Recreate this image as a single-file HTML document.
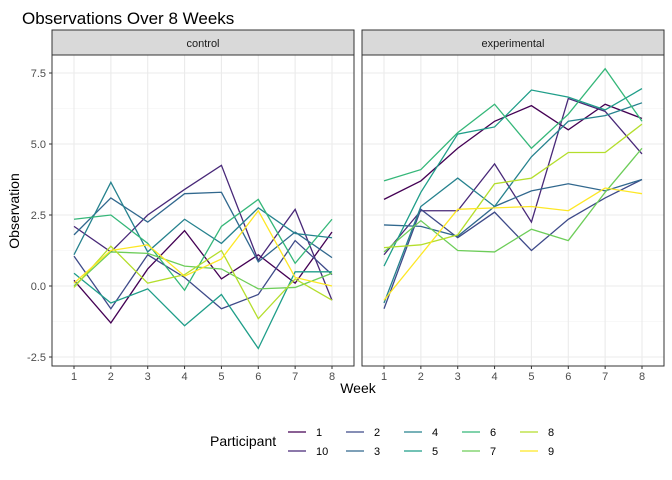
<!DOCTYPE html>
<html><head><meta charset="utf-8"><style>
body{margin:0;background:#fff}
svg{font-family:"Liberation Sans",sans-serif;display:block}
</style></head><body>
<svg id="c" width="672" height="480">
<text x="22" y="24" font-size="17" fill="#000">Observations Over 8 Weeks</text>
</svg>
<script>
const weeks=[1,2,3,4,5,6,7,8];
const participants=["1","10","2","3","4","5","6","7","8","9"];
const colors=["#440154","#482878","#3E4A89","#31688E","#26828E","#1F9E89","#35B779","#6DCD59","#B4DE2C","#FDE725"];
const control1=[0.2,-1.3,0.6,1.95,0.25,1.1,0.1,1.9];
const control10=[2.1,1.2,2.5,3.4,4.25,0.9,2.7,-0.5];
const control2=[1.05,-0.8,1.1,0.3,-0.8,-0.3,1.6,0.4];
const control3=[1.8,3.1,2.25,3.25,3.3,0.85,1.9,1.0];
const control4=[1.1,3.65,1.2,2.35,1.5,2.75,1.85,1.7];
const control5=[0.45,-0.6,-0.1,-1.4,-0.3,-2.2,0.5,0.5];
const control6=[2.35,2.5,1.5,-0.15,2.1,3.05,0.8,2.35];
const control7=[0.0,1.2,1.15,0.7,0.6,-0.1,-0.05,0.45];
const control8=[-0.05,1.4,0.1,0.4,1.25,-1.15,0.25,-0.5];
const control9=[0.1,1.25,1.45,0.35,0.95,2.65,0.3,0.0];
const exp1=[3.05,3.7,4.85,5.8,6.35,5.5,6.4,5.9];
const exp10=[1.1,2.65,2.65,4.3,2.25,6.6,6.15,4.65];
const exp2=[-0.8,2.7,1.7,2.6,1.25,2.35,3.1,3.75];
const exp3=[2.15,2.1,1.75,2.8,3.35,3.6,3.35,3.75];
const exp4=[-0.6,2.8,3.8,2.8,4.55,5.8,6.0,6.45];
const exp5=[0.7,3.3,5.35,5.6,6.9,6.65,6.2,6.95];
const exp6=[3.7,4.1,5.4,6.4,4.85,6.05,7.65,5.8];
const exp7=[1.2,2.3,1.25,1.2,2.0,1.6,3.3,4.85];
const exp8=[1.35,1.45,1.8,3.6,3.8,4.7,4.7,5.7];
const exp9=[-0.5,1.1,2.7,2.75,2.8,2.65,3.45,3.25];
const controlSeries=[control1,control10,control2,control3,control4,control5,control6,control7,control8,control9];
const expSeries=[exp1,exp10,exp2,exp3,exp4,exp5,exp6,exp7,exp8,exp9];
const yTicks=[-2.5,0,2.5,5,7.5];
const yTickLabels=["-2.5","0.0","2.5","5.0","7.5"];
const panelNames=["control","experimental"];

const svg=document.getElementById('c');
const NS="http://www.w3.org/2000/svg";
function mk(tag,attrs,parent){const e=document.createElementNS(NS,tag);for(const k in attrs)e.setAttribute(k,attrs[k]);(parent||svg).appendChild(e);return e;}
const plotTop=55,plotBot=366;
function y(v){return 286-28.4*v;}
const panels=[{x0:52,x1:354,series:controlSeries},{x0:362,x1:664,series:expSeries}];
panels.forEach((p,pi)=>{
  const xs=w=>p.x0+22+(w-1)*((p.x1-p.x0-44)/7);
  const g=mk('g',{});
  
  
  const strip=mk('rect',{x:p.x0,y:30,width:p.x1-p.x0,height:25,fill:'#d9d9d9',stroke:'#333','stroke-width':1},g);
  
  
  const st=mk('text',{x:(p.x0+p.x1)/2,y:47,'font-size':11,'text-anchor':'middle',fill:'#1a1a1a'},g);
  st.textContent=panelNames[pi];
  
  
  for(let i=0;i<yTicks.length-1;i++){const v=(yTicks[i]+yTicks[i+1])/2;mk('line',{x1:p.x0,x2:p.x1,y1:y(v),y2:y(v),stroke:'#f2f2f2','stroke-width':0.6},g);}
  yTicks.forEach(v=>mk('line',{x1:p.x0,x2:p.x1,y1:y(v),y2:y(v),stroke:'#ebebeb','stroke-width':1.1},g));
  weeks.forEach(w=>{
    mk('line',{x1:xs(w),x2:xs(w),y1:plotTop,y2:plotBot,stroke:'#ebebeb','stroke-width':1.1},g);
    mk('line',{x1:xs(w),x2:xs(w),y1:plotBot,y2:plotBot+3,stroke:'#333'},g);
    const t=mk('text',{x:xs(w),y:plotBot+14,'font-size':11,'text-anchor':'middle',fill:'#4d4d4d'},g);
    t.textContent=w;
    
    
  });
  p.series.forEach((s,si)=>{
    const l=mk('polyline',{points:s.map((v,i)=>xs(weeks[i])+','+y(v)).join(' '),fill:'none',stroke:colors[si],'stroke-width':1.3},g);
    
    
  });
  mk('rect',{x:p.x0,y:plotTop,width:p.x1-p.x0,height:plotBot-plotTop,fill:'none',stroke:'#333','stroke-width':1},g);
});
yTicks.forEach((v,i)=>{
  mk('line',{x1:49,x2:52,y1:y(v),y2:y(v),stroke:'#333'});
  const t=mk('text',{x:46,y:y(v)+4,'font-size':11,'text-anchor':'end',fill:'#4d4d4d'});
  t.textContent=yTickLabels[i];
  
  
});
const xt=mk('text',{x:358,y:393,'font-size':14,'text-anchor':'middle',fill:'#000'});
xt.textContent='Week';


const yt=mk('text',{x:19,y:211,'font-size':14,'text-anchor':'middle',fill:'#000',transform:'rotate(-90 19 211)'});
yt.textContent='Observation';


const lt=mk('text',{x:210,y:446,'font-size':14,fill:'#000'});
lt.textContent='Participant';


participants.forEach((p,i)=>{
  const col=Math.floor(i/2),row=i%2;
  const kx=288+col*58,ky=432+row*19;
  const g=mk('g',{});
  
  
  mk('line',{x1:kx,x2:kx+18,y1:ky,y2:ky,stroke:colors[i],'stroke-width':1.3},g);
  const t=mk('text',{x:kx+28,y:ky+4,'font-size':11,fill:'#000'},g);
  t.textContent=p;
});
</script>
</body></html>
